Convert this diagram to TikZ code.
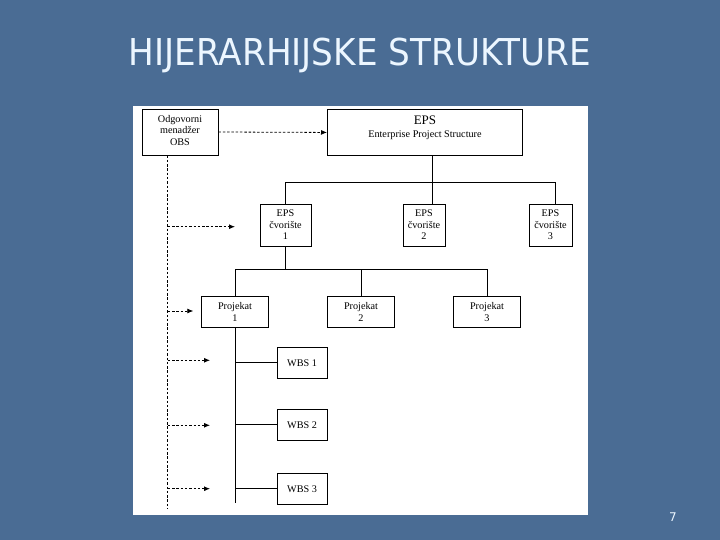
\documentclass[tikz,border=0pt]{standalone}
\usepackage{fontspec}
\setmainfont{Liberation Serif}
\newfontfamily\titlefont{DejaVu Sans}
\usetikzlibrary{arrows.meta}

\definecolor{slideblue}{RGB}{74,108,148}
\definecolor{titlecol}{RGB}{236,246,255}

\tikzset{
  box/.style={draw=black,line width=0.9pt,fill=white,inner sep=0pt,align=center,
    font=\fontsize{10.2}{11.5}\selectfont},
  tree/.style={draw=black,line width=1pt},
  obsline/.style={draw=black,line width=0.8pt,dash pattern=on 2.5pt off 1.8pt},
  obsarrow/.style={obsline,-{Latex[length=6pt,width=5pt]}}
}

\begin{document}
\begin{tikzpicture}[x=1pt,y=-1pt]
  % slide
  \fill[slideblue] (0,0) rectangle (720,540);
  \useasboundingbox (0,0) rectangle (720,540);
  \node[font=\titlefont\fontsize{37}{40}\selectfont,text=titlecol,xscale=0.925] (title) at (360,55) {HIJERARHIJSKE STRUKTURE};
  \node[font=\titlefont\fontsize{12}{14}\selectfont,text=titlecol] (pagenum) at (673,517) {7};
  \fill[white] (133,106) rectangle (588,515);

  % levels
  \node[box,minimum width=76pt,minimum height=46pt] (obs) at (180,132) {Odgovorni\\menadžer\\OBS\\[-7.5pt]{}};
  \node[box,minimum width=195pt,minimum height=46pt,anchor=north west] (eps) at (327,109)
    {{\fontsize{13}{14}\selectfont EPS}\\[2pt]Enterprise Project Structure\\[0pt]{}};
  \node[box,minimum width=51pt,minimum height=42pt] (cv1) at (285.5,225) {EPS\\čvorište\\1};
  \node[box,minimum width=42pt,minimum height=42pt] (cv2) at (424,225) {EPS\\čvorište\\2};
  \node[box,minimum width=43pt,minimum height=42pt] (cv3) at (550.5,225) {EPS\\čvorište\\3};
  \node[box,minimum width=67pt,minimum height=31pt] (p1) at (235,312) {Projekat\\1};
  \node[box,minimum width=67pt,minimum height=31pt] (p2) at (361,312) {Projekat\\2};
  \node[box,minimum width=67pt,minimum height=31pt] (p3) at (487,312) {Projekat\\3};
  \node[box,minimum width=50pt,minimum height=31pt] (wbs1) at (302,362.7) {WBS 1};
  \node[box,minimum width=50pt,minimum height=31pt] (wbs2) at (302,424.7) {WBS 2};
  \node[box,minimum width=50pt,minimum height=31pt] (wbs3) at (302,488.8) {WBS 3};

  % tree lines
  \coordinate (bus1) at (0,183);
  \coordinate (bus2) at (0,269);
  \coordinate (wbsend) at (235,503);
  \draw[tree] ([xshift=7.5pt]eps.south) -- ([xshift=7.5pt]eps.south |- cv2.north);
  \draw[tree] (cv1.north) |- ([xshift=5pt]cv3.north |- bus1) -- ([xshift=5pt]cv3.north);
  \draw[tree] (cv1.south) -- (cv1.south |- bus2);
  \draw[tree] (p1.north) |- (p3.north |- bus2) -- (p3.north);
  \draw[tree] (p2.north) -- (p2.north |- bus2);
  \draw[tree] (p1.south) -- (wbsend);
  \foreach \w in {wbs1,wbs2,wbs3}
    \draw[tree] (p1.south |- \w.west) -- (\w.west);

  % OBS responsibility
  \coordinate (obsend) at (167.7,509);
  \draw[obsline] ([xshift=-12.3pt]obs.south) -- (obsend);
  \draw[obsarrow] (obs.east) -- (eps.west);
  \coordinate (t1) at (235,226.7);
  \coordinate (t2) at (193.3,311);
  \coordinate (t3) at (210,360.3);
  \coordinate (t4) at (210,425.3);
  \coordinate (t5) at (210,488.7);
  \foreach \t in {t1,t2,t3,t4,t5}
    \draw[obsarrow] (obsend |- \t) -- (\t);
\end{tikzpicture}
\end{document}
